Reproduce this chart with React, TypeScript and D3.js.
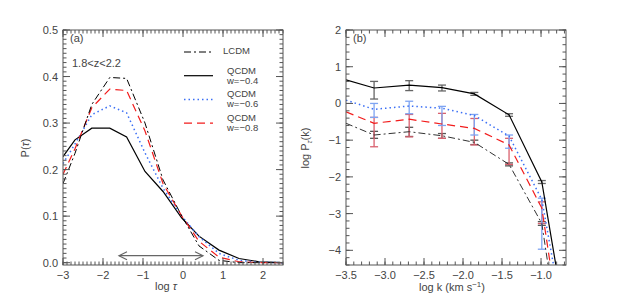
import React from 'react';
import * as d3 from 'd3';

// ---- panel (a): optical depth distribution ----
const logTau = [-3, -2.7, -2.28, -1.83, -1.41, -0.95, -0.5, -0.03, 0.4, 0.9, 1.4, 1.9, 2.5];
const pLCDM = [0.17, 0.235, 0.34, 0.398, 0.396, 0.3, 0.178, 0.1, 0.036, 0.005, 0.0, 0.0, 0.0];
const pW04 = [0.228, 0.264, 0.289, 0.289, 0.27, 0.196, 0.153, 0.096, 0.057, 0.027, 0.009, 0.002, 0.0];
const pW06 = [0.213, 0.255, 0.318, 0.337, 0.322, 0.236, 0.16, 0.1, 0.056, 0.02, 0.005, 0.001, 0.0];
const pW08 = [0.19, 0.245, 0.333, 0.373, 0.37, 0.283, 0.17, 0.1, 0.046, 0.012, 0.002, 0.0, 0.0];
const arrowSpan = [-1.6, 0.5];
const arrowP = 0.015;

// ---- panel (b): power spectrum ----
const logK = [-3.5, -3.14, -2.69, -2.27, -1.855, -1.41, -0.99];
const kW04 = [0.64, 0.42, 0.5, 0.43, 0.26, -0.31, -2.14];
const kW04Top = [null, 0.6, 0.62, 0.5, 0.3, -0.28, -2.1];
const kW04Bot = [null, 0.12, 0.35, 0.34, 0.22, -0.35, -2.18];
const kW06 = [0.09, -0.16, -0.07, -0.13, -0.33, -0.89, -2.62];
const kW06Top = [null, 0.0, 0.06, -0.08, -0.3, -0.86, -2.58];
const kW06Bot = [null, -0.38, -0.28, -0.6, -0.86, -1.22, -3.97];
const kW08 = [-0.23, -0.54, -0.43, -0.56, -0.68, -1.13, -2.85];
const kW08Top = [null, -0.38, -0.3, -0.27, -0.41, -0.95, -2.68];
const kW08Bot = [null, -1.18, -0.91, -0.95, -1.13, -1.66, -3.27];
const kLCDM = [-0.54, -0.86, -0.77, -0.88, -1.06, -1.66, -3.27];
const kLCDMTop = [null, -0.76, -0.65, -0.82, -1.0, -1.62, -3.22];
const kLCDMBot = [null, -0.95, -0.9, -0.95, -1.12, -1.7, -3.32];
// where each curve leaves the bottom of panel (b): [lcdm, w04, w06, w08]
const tailK = [-0.91, -0.81, -0.84, -0.88];
const tailP = -4.4;

const tauTicks = [-3, -2, -1, 0, 1, 2];
const pTicks = [0, 0.1, 0.2, 0.3, 0.4, 0.5];
const kTicks = [-3.5, -3.0, -2.5, -2.0, -1.5, -1.0];
const pkTicks = [-4, -3, -2, -1, 0, 1, 2];

const FONT = 'Liberation Sans, Arial, sans-serif';
const AXIS = '#555';
const TXT = '#444';

const styles = {
  lcdm: { stroke: '#000', dash: '7,3,2,3', w: 1 },
  w04: { stroke: '#000', dash: null, w: 1.2 },
  w06: { stroke: '#3b6ff5', dash: '1.5,3', w: 1.5 },
  w08: { stroke: '#f21c1c', dash: '8,5', w: 1.2 },
};

const minus = (s: string) => s.replace('-', '\u2212');

function Frame({ x, y, xMajor, xMinor, yMajor, yMinor, xFmt, yFmt }: any) {
  const [xa, xb] = x.range();
  const [yb, ya] = y.range();
  const maj = 7, mnr = 3.5;
  return (
    <g stroke={AXIS} strokeWidth={1} fill="none">
      <rect x={xa} y={ya} width={xb - xa} height={yb - ya} />
      {xMinor.map((v: number, i: number) => (
        <g key={'xm' + i}>
          <line x1={x(v)} x2={x(v)} y1={yb} y2={yb - mnr} />
          <line x1={x(v)} x2={x(v)} y1={ya} y2={ya + mnr} />
        </g>
      ))}
      {xMajor.map((v: number, i: number) => (
        <g key={'xM' + i}>
          <line x1={x(v)} x2={x(v)} y1={yb} y2={yb - maj} />
          <line x1={x(v)} x2={x(v)} y1={ya} y2={ya + maj} />
          <text x={x(v)} y={yb + 14} textAnchor="middle" fill={TXT} stroke="none"
            fontFamily={FONT} fontSize={11}>{xFmt(v)}</text>
        </g>
      ))}
      {yMinor.map((v: number, i: number) => (
        <g key={'ym' + i}>
          <line x1={xa} x2={xa + mnr} y1={y(v)} y2={y(v)} />
          <line x1={xb} x2={xb - mnr} y1={y(v)} y2={y(v)} />
        </g>
      ))}
      {yMajor.map((v: number, i: number) => (
        <g key={'yM' + i}>
          <line x1={xa} x2={xa + maj} y1={y(v)} y2={y(v)} />
          <line x1={xb} x2={xb - maj} y1={y(v)} y2={y(v)} />
          <text x={xa - 5} y={y(v) + 4} textAnchor="end" fill={TXT} stroke="none"
            fontFamily={FONT} fontSize={11}>{yFmt(v)}</text>
        </g>
      ))}
    </g>
  );
}

const App = () => {
  // panel (a) scales
  const xA = d3.scaleLinear().domain([-3, 2.5]).range([63, 283]);
  const yA = d3.scaleLinear().domain([-0.005, 0.5]).range([265, 30]);
  // panel (b) scales
  const xB = d3.scaleLinear().domain([-3.5, -0.68]).range([346, 566]);
  const yB = d3.scaleLinear().domain([-4.4, 2]).range([265, 30]);

  const lineA = d3.line<number>().x((_, i) => xA(logTau[i])).y(d => yA(d));
  const lineB = d3.line<[number, number]>().x(d => xB(d[0])).y(d => yB(d[1]));

  const seriesA = [
    { key: 'w04', v: pW04 },
    { key: 'w06', v: pW06 },
    { key: 'w08', v: pW08 },
    { key: 'lcdm', v: pLCDM },
  ];

  const seriesB = [
    { key: 'lcdm', v: kLCDM, top: kLCDMTop, bot: kLCDMBot, tail: tailK[0], bar: '#555', stroke: '#333' },
    { key: 'w08', v: kW08, top: kW08Top, bot: kW08Bot, tail: tailK[3], bar: '#d9606e', stroke: styles.w08.stroke },
    { key: 'w06', v: kW06, top: kW06Top, bot: kW06Bot, tail: tailK[2], bar: '#7ea4f2', stroke: styles.w06.stroke },
    { key: 'w04', v: kW04, top: kW04Top, bot: kW04Bot, tail: tailK[1], bar: '#666', stroke: '#000' },
  ];

  const legend = [
    { key: 'lcdm', l1: 'LCDM', l2: null },
    { key: 'w04', l1: 'QCDM', l2: 'w=\u22120.4' },
    { key: 'w06', l1: 'QCDM', l2: 'w=\u22120.6' },
    { key: 'w08', l1: 'QCDM', l2: 'w=\u22120.8' },
  ];

  const ax0 = xA(arrowSpan[0]), ax1 = xA(arrowSpan[1]), ay = yA(arrowP);

  return (
    <svg width={629} height={295} style={{ position: 'absolute', left: 0, top: 0, background: '#fff' }}>
      <defs>
        <clipPath id="clipA"><rect x={63} y={30} width={220} height={235} /></clipPath>
        <clipPath id="clipB"><rect x={346} y={30} width={220} height={235} /></clipPath>
      </defs>

      {/* panel (a) */}
      <g clipPath="url(#clipA)">
        {seriesA.map(s => {
          const st = (styles as any)[s.key];
          return <path key={s.key} d={lineA(s.v) || ''} fill="none" stroke={st.stroke}
            strokeWidth={st.w} strokeDasharray={st.dash || undefined} />;
        })}
      </g>
      <g stroke="#666" strokeWidth={1.2} fill="none">
        <line x1={ax0} x2={ax1} y1={ay} y2={ay} />
        <polyline points={`${ax0 + 8},${ay - 4} ${ax0},${ay} ${ax0 + 8},${ay + 4}`} />
        <polyline points={`${ax1 - 8},${ay - 4} ${ax1},${ay} ${ax1 - 8},${ay + 4}`} />
      </g>
      <Frame x={xA} y={yA} xMajor={tauTicks} xMinor={d3.range(-3, 2.501, 0.1)}
        yMajor={pTicks} yMinor={d3.range(0, 0.5001, 0.01)}
        xFmt={(v: number) => minus(String(v))} yFmt={(v: number) => v.toFixed(1)} />
      <text x={70} y={42} fontFamily={FONT} fontSize={11} fill={TXT}>(a)</text>
      <text x={72} y={67} fontFamily={FONT} fontSize={11} fill={TXT}>1.8&lt;z&lt;2.2</text>
      {legend.map((l, i) => {
        const st = (styles as any)[l.key];
        const ly = 52 + i * 23.7;
        return (
          <g key={l.key}>
            <line x1={184} x2={213} y1={ly} y2={ly} stroke={st.stroke} strokeWidth={st.w}
              strokeDasharray={st.dash || undefined} />
            {l.l2 ? (
              <>
                <text x={227} y={ly - 2} fontFamily={FONT} fontSize={9.5} fill={TXT}>{l.l1}</text>
                <text x={227} y={ly + 8} fontFamily={FONT} fontSize={9.5} fill={TXT}>{l.l2}</text>
              </>
            ) : (
              <text x={223} y={ly + 2} fontFamily={FONT} fontSize={9.5} fill={TXT}>{l.l1}</text>
            )}
          </g>
        );
      })}
      <text transform="translate(29,148) rotate(-90)" textAnchor="middle" fontFamily={FONT}
        fontSize={11} fill={TXT}>P(<tspan fontStyle="italic">τ</tspan>)</text>
      <text x={166} y={290} textAnchor="middle" fontFamily={FONT} fontSize={11} fill={TXT}>
        log <tspan fontStyle="italic">τ</tspan>
      </text>

      {/* panel (b) */}
      <g clipPath="url(#clipB)">
        {seriesB.map(s => (
          <g key={'bars' + s.key} stroke={s.bar} strokeWidth={1.3}>
            {logK.map((k, i) => (s.top[i] === null ? null : (
              <g key={i}>
                <line x1={xB(k)} x2={xB(k)} y1={yB(s.top[i] as number)} y2={yB(s.bot[i] as number)} />
                <line x1={xB(k) - 4} x2={xB(k) + 4} y1={yB(s.top[i] as number)} y2={yB(s.top[i] as number)} />
                <line x1={xB(k) - 4} x2={xB(k) + 4} y1={yB(s.bot[i] as number)} y2={yB(s.bot[i] as number)} />
              </g>
            )))}
          </g>
        ))}
        {seriesB.map(s => {
          const st = (styles as any)[s.key];
          const pts: [number, number][] = logK.map((k, i) => [k, s.v[i]] as [number, number]);
          pts.push([s.tail, tailP]);
          return <path key={s.key} d={lineB(pts) || ''} fill="none" stroke={s.stroke}
            strokeWidth={st.w} strokeDasharray={st.dash || undefined} />;
        })}
      </g>
      <Frame x={xB} y={yB} xMajor={kTicks} xMinor={d3.range(-3.5, -0.68, 0.1)}
        yMajor={pkTicks} yMinor={d3.range(-4.4, 2.001, 0.2)}
        xFmt={(v: number) => minus(v.toFixed(1))} yFmt={(v: number) => minus(String(v))} />
      <text x={353} y={42} fontFamily={FONT} fontSize={11} fill={TXT}>(b)</text>
      <text transform="translate(309,148) rotate(-90)" textAnchor="middle" fontFamily={FONT}
        fontSize={11} fill={TXT}>
        log P<tspan fontSize={8} dy={3} fontStyle="italic">τ</tspan><tspan dy={-3}>(k)</tspan>
      </text>
      <text x={452} y={291} textAnchor="middle" fontFamily={FONT} fontSize={11} fill={TXT}>
        log k (km s<tspan fontSize={8} dy={-4}>−1</tspan><tspan dy={4}>)</tspan>
      </text>
    </svg>
  );
};

export default App;
